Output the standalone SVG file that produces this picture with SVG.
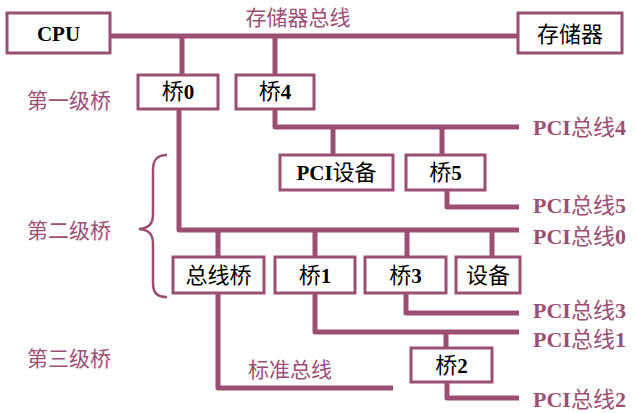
<svg xmlns="http://www.w3.org/2000/svg" width="637" height="413" viewBox="0 0 637 413">
<style>
.box{fill:#fff;stroke:#9b4f73;stroke-width:3}
.ln{fill:none;stroke:#9b4f73;stroke-width:5;stroke-linejoin:round}
.br{fill:none;stroke:#9b4f73;stroke-width:2.5}
.t{font-family:"Liberation Serif","Noto Sans CJK SC",serif;font-weight:bold;font-size:21px;fill:#000;text-anchor:middle}
.cn{font-family:"Noto Sans CJK SC",sans-serif;font-weight:normal;font-size:22px}
.p{font-family:"Liberation Serif","Noto Sans CJK SC",serif;font-weight:bold;font-size:22px;fill:#9b4f73}
.lbl{font-family:"Noto Sans CJK SC",sans-serif;font-size:21px;fill:#9b4f73}
</style>
<rect width="637" height="413" fill="#fff"/>
<g id="connectors">
<path class="ln" d="M110,36 H519"/>
<path class="ln" d="M182,36 V75"/>
<path class="ln" d="M275,36 V75"/>
<path class="ln" d="M275,109 V127 H519"/>
<path class="ln" d="M333,127 V155"/>
<path class="ln" d="M442,127 V155"/>
<path class="ln" d="M447,190 V207 H519"/>
<path class="ln" d="M179,109 V230 H519"/>
<path class="ln" d="M218,230 V257"/>
<path class="ln" d="M315,230 V257"/>
<path class="ln" d="M407,230 V257"/>
<path class="ln" d="M492,230 V257"/>
<path class="ln" d="M406,293 V313 H519"/>
<path class="ln" d="M315,293 V332 H519"/>
<path class="ln" d="M446,332 V348"/>
<path class="ln" d="M447,382 V398 H519"/>
<path class="ln" d="M218,293 V388 H393"/>
<path class="br" d="M167,155 C157,155 153,160 153,170 V214 C153,224 149,228 139,229 C149,230 153,234 153,244 V283 C153,293 157,297 167,297"/>
</g>
<g id="cpu"><rect class="box" x="7" y="13" width="103" height="40"/><text class="t" x="58.5" y="41">CPU</text></g>
<g id="memory"><rect class="box" x="518" y="13" width="104" height="40"/><text class="t cn" x="570" y="42">存储器</text></g>
<g id="bridge0"><rect class="box" x="138" y="75" width="80" height="34"/><text class="t" x="178" y="99"><tspan class="cn">桥</tspan>0</text></g>
<g id="bridge4"><rect class="box" x="236" y="75" width="78" height="34"/><text class="t" x="275" y="99"><tspan class="cn">桥</tspan>4</text></g>
<g id="pcidev"><rect class="box" x="280" y="155" width="113" height="35"/><text class="t" x="336.5" y="180">PCI<tspan class="cn">设备</tspan></text></g>
<g id="bridge5"><rect class="box" x="406" y="155" width="79" height="35"/><text class="t" x="445.5" y="180"><tspan class="cn">桥</tspan>5</text></g>
<g id="busbridge"><rect class="box" x="173" y="257" width="91" height="36"/><text class="t cn" x="218.5" y="283">总线桥</text></g>
<g id="bridge1"><rect class="box" x="275" y="257" width="80" height="36"/><text class="t" x="315" y="283"><tspan class="cn">桥</tspan>1</text></g>
<g id="bridge3"><rect class="box" x="365" y="257" width="81" height="36"/><text class="t" x="405.5" y="283"><tspan class="cn">桥</tspan>3</text></g>
<g id="device"><rect class="box" x="456" y="257" width="64" height="36"/><text class="t cn" x="488" y="283">设备</text></g>
<g id="bridge2"><rect class="box" x="411" y="348" width="81" height="34"/><text class="t" x="451.5" y="373"><tspan class="cn">桥</tspan>2</text></g>
<g id="labels">
<text class="lbl" x="298" y="25" text-anchor="middle">存储器总线</text>
<text class="lbl" x="27" y="108">第一级桥</text>
<text class="lbl" x="27" y="238">第二级桥</text>
<text class="lbl" x="27" y="366">第三级桥</text>
<text class="lbl" x="248" y="377">标准总线</text>
<text class="p" x="533" y="135">PCI<tspan class="cn">总线</tspan>4</text>
<text class="p" x="533" y="213">PCI<tspan class="cn">总线</tspan>5</text>
<text class="p" x="533" y="244">PCI<tspan class="cn">总线</tspan>0</text>
<text class="p" x="533" y="318">PCI<tspan class="cn">总线</tspan>3</text>
<text class="p" x="533" y="347">PCI<tspan class="cn">总线</tspan>1</text>
<text class="p" x="533" y="407">PCI<tspan class="cn">总线</tspan>2</text>
</g>
</svg>
